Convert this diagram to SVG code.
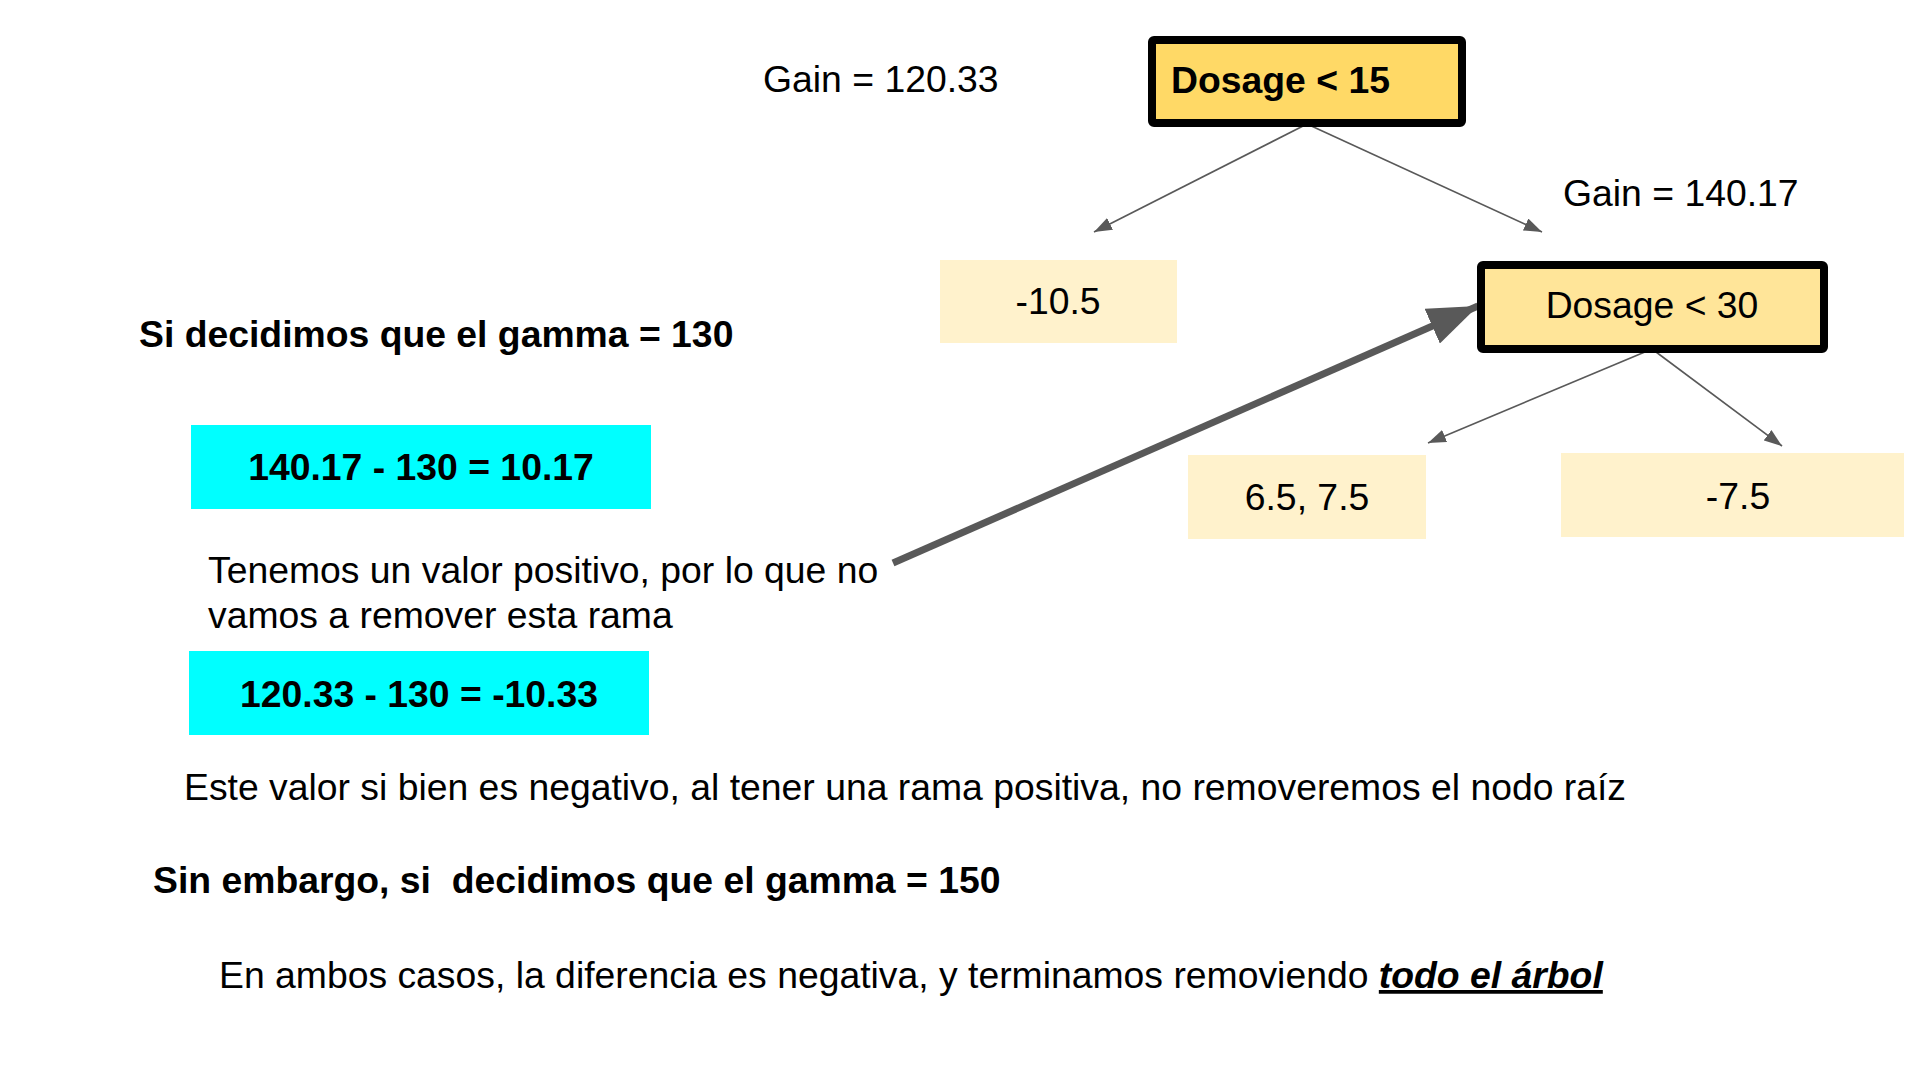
<svg xmlns="http://www.w3.org/2000/svg" width="1920" height="1080" viewBox="0 0 1920 1080">
<style>
text{font-family:"Liberation Sans",Arial,sans-serif;font-size:37.33px;fill:#000}
.b{font-weight:bold}
.c{text-anchor:middle}
.split{stroke:#000;stroke-width:8}
.leaf{fill:#FFF2CC}
.calc{fill:#00FFFF}
.conn{stroke:#595959;stroke-width:1.6;fill:none}
</style>
<defs>
<marker id="sa" markerUnits="userSpaceOnUse" markerWidth="18" markerHeight="13" refX="18" refY="6.5" orient="auto">
<path d="M0,0 L18,6.5 L0,13 z" fill="#595959"/>
</marker>
<marker id="ba" markerUnits="userSpaceOnUse" markerWidth="50" markerHeight="38" refX="50" refY="19" orient="auto">
<path d="M0,0 L50,19 L0,38 z" fill="#595959"/>
</marker>
</defs>
<rect width="1920" height="1080" fill="#fff"/>
<g id="connectors">
<line class="conn" x1="1307" y1="124" x2="1094" y2="232" marker-end="url(#sa)"/>
<line class="conn" x1="1307" y1="124" x2="1542" y2="232" marker-end="url(#sa)"/>
<line class="conn" x1="1652" y1="349" x2="1428" y2="443" marker-end="url(#sa)"/>
<line class="conn" x1="1652" y1="349" x2="1782" y2="446" marker-end="url(#sa)"/>
<line x1="893" y1="563" x2="1478" y2="306" stroke="#595959" stroke-width="7" marker-end="url(#ba)"/>
</g>
<g id="gain1"><text x="763" y="92">Gain = 120.33</text></g>
<g id="root">
<rect class="split" x="1152" y="40" width="310" height="83" rx="2" fill="#FFD966"/>
<text class="b" x="1171" y="93">Dosage &lt; 15</text>
</g>
<g id="leaf-left">
<rect class="leaf" x="940" y="260" width="237" height="83"/>
<text class="c" x="1058" y="314">-10.5</text>
</g>
<g id="gain2"><text x="1563" y="206">Gain = 140.17</text></g>
<g id="node30">
<rect class="split" x="1481" y="265" width="343" height="84" rx="2" fill="#FFE599"/>
<text class="c" x="1652" y="318">Dosage &lt; 30</text>
</g>
<g id="leaf-mid">
<rect class="leaf" x="1188" y="455" width="238" height="84"/>
<text class="c" x="1307" y="510">6.5, 7.5</text>
</g>
<g id="leaf-right">
<rect class="leaf" x="1561" y="453" width="343" height="84"/>
<text class="c" x="1738" y="509">-7.5</text>
</g>
<g id="heading1"><text class="b" x="139" y="347">Si decidimos que el gamma = 130</text></g>
<g id="calc1">
<rect class="calc" x="191" y="425" width="460" height="84"/>
<text class="b c" x="421" y="480">140.17 - 130 = 10.17</text>
</g>
<g id="note1">
<text x="208" y="583">Tenemos un valor positivo, por lo que no</text>
<text x="208" y="628">vamos a remover esta rama</text>
</g>
<g id="calc2">
<rect class="calc" x="189" y="651" width="460" height="84"/>
<text class="b c" x="419" y="707">120.33 - 130 = -10.33</text>
</g>
<g id="note2"><text x="184" y="800">Este valor si bien es negativo, al tener una rama positiva, no removeremos el nodo raíz</text></g>
<g id="heading2"><text class="b" x="153" y="893" xml:space="preserve">Sin embargo, si  decidimos que el gamma = 150</text></g>
<g id="conclusion"><text x="219" y="988">En ambos casos, la diferencia es negativa, y terminamos removiendo <tspan font-weight="bold" font-style="italic" text-decoration="underline">todo el árbol</tspan></text></g>
</svg>
